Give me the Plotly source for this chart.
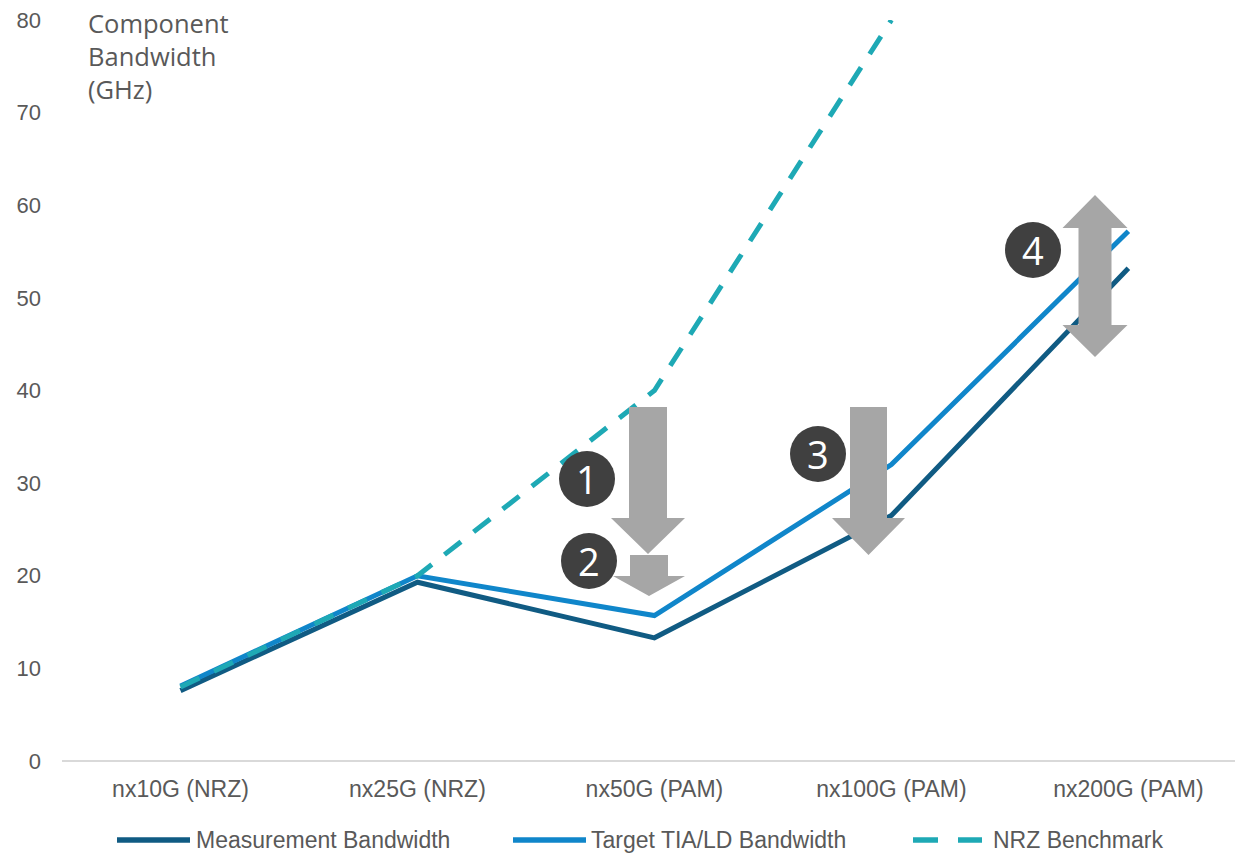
import plotly.graph_objects as go

categories = ["nx10G (NRZ)", "nx25G (NRZ)", "nx50G (PAM)", "nx100G (PAM)", "nx200G (PAM)"]
measurement_bw = [7.6, 19.3, 13.3, 26.5, 53.2]
target_bw = [8.1, 20.0, 15.7, 32.0, 57.2]
nrz_benchmark = [8.0, 20.0, 40.0, 80.0, None]
y_ticks = [0, 10, 20, 30, 40, 50, 60, 70, 80]
series_names = ["Measurement Bandwidth", "Target TIA/LD Bandwidth", "NRZ Benchmark"]
callout_labels = ["1", "2", "3", "4"]

C_MEAS = "#105b83"
C_TARGET = "#1086ca"
C_NRZ = "#1ea9b5"
GREY_TXT = "#595959"
ARROW = "#a6a6a6"
CIRCLE = "#404040"

W, H = 1235, 854
ML, MR, MT, MB = 62, 0, 20, 93
PW, PH = W - ML - MR, H - MT - MB

xs = list(range(len(categories)))

fig = go.Figure()
fig.add_trace(go.Scatter(x=xs, y=measurement_bw, mode="lines", name=series_names[0],
                         line=dict(color=C_MEAS, width=5), showlegend=False, cliponaxis=False))
fig.add_trace(go.Scatter(x=xs, y=target_bw, mode="lines", name=series_names[1],
                         line=dict(color=C_TARGET, width=5), showlegend=False, cliponaxis=False))
fig.add_trace(go.Scatter(x=xs, y=nrz_benchmark, mode="lines", name=series_names[2],
                         line=dict(color=C_NRZ, width=5, dash="21px,16px"), showlegend=False,
                         cliponaxis=False, connectgaps=False))

shapes = []
annotations = []


def px2data_x(px):
    return -0.5 + (px - ML) / PW * 4.95


def py2data_y(py):
    return (MT + PH - py) / PH * 80.0


def down_arrow(cx_px, top, base, tip, shaft_hw, head_hw):
    xa = px2data_x(cx_px)
    yt, yb, yp = py2data_y(top), py2data_y(base), py2data_y(tip)
    path = (f"M {-shaft_hw},{yt} L {shaft_hw},{yt} L {shaft_hw},{yb} L {head_hw},{yb} "
            f"L 0,{yp} L {-head_hw},{yb} L {-shaft_hw},{yb} Z")
    return dict(type="path", xref="x", yref="y", xsizemode="pixel", xanchor=xa, path=path,
                fillcolor=ARROW, line=dict(width=0), layer="above")


def double_arrow(cx_px, tip1, base1, base2, tip2, shaft_hw, head_hw):
    xa = px2data_x(cx_px)
    t1, b1, b2, t2 = py2data_y(tip1), py2data_y(base1), py2data_y(base2), py2data_y(tip2)
    path = (f"M 0,{t1} L {head_hw},{b1} L {shaft_hw},{b1} L {shaft_hw},{b2} L {head_hw},{b2} "
            f"L 0,{t2} L {-head_hw},{b2} L {-shaft_hw},{b2} L {-shaft_hw},{b1} L {-head_hw},{b1} Z")
    return dict(type="path", xref="x", yref="y", xsizemode="pixel", xanchor=xa, path=path,
                fillcolor=ARROW, line=dict(width=0), layer="above")


shapes.append(down_arrow(648, 407, 518, 554, 19, 37))
shapes.append(down_arrow(649, 555, 576, 596, 19, 36))
shapes.append(down_arrow(868.5, 407, 518, 555, 18.5, 36.5))
shapes.append(double_arrow(1095, 195, 228, 325, 357, 16.5, 32.5))

circle_pos = [(587, 479), (589, 561), (818, 454), (1033, 250)]
R = 28
for (cx, cy), lab in zip(circle_pos, callout_labels):
    xa, ya = px2data_x(cx), py2data_y(cy)
    shapes.append(dict(type="circle", xref="x", yref="y", xsizemode="pixel", ysizemode="pixel",
                       xanchor=xa, yanchor=ya, x0=-R, x1=R, y0=-R, y1=R,
                       fillcolor=CIRCLE, line=dict(width=0), layer="above"))
    annotations.append(dict(x=xa, y=ya, xref="x", yref="y", text=lab, showarrow=False,
                            font=dict(family="Open Sans, Noto Sans, sans-serif", size=38, color="white"),
                            xanchor="center", yanchor="middle"))

# Axis title
annotations.append(dict(x=(86 - ML) / PW, y=(MT + PH - 4) / PH, xref="paper", yref="paper",
                        text="Component<br>Bandwidth<br>(GHz)", showarrow=False, align="left",
                        xanchor="left", yanchor="top",
                        font=dict(family="Open Sans, Noto Sans, sans-serif", size=25.5, color=GREY_TXT)))


def px2paper_x(px):
    return (px - ML) / PW


def py2paper_y(py):
    return (MT + PH - py) / PH


# Custom legend
leg_y = py2paper_y(840)
leg_items = [
    (series_names[0], C_MEAS, [(117, 190)], 194),
    (series_names[1], C_TARGET, [(513, 586)], 589),
    (series_names[2], C_NRZ, [(913, 938), (958, 982)], 991),
]
for name, col, segs, tx in leg_items:
    for a, b in segs:
        shapes.append(dict(type="line", xref="paper", yref="paper", x0=px2paper_x(a), x1=px2paper_x(b),
                           y0=leg_y, y1=leg_y, line=dict(color=col, width=5.5)))
    annotations.append(dict(x=px2paper_x(tx), y=leg_y, xref="paper", yref="paper", text=name,
                            showarrow=False, xanchor="left", yanchor="middle",
                            font=dict(family="Liberation Sans, Arial, sans-serif", size=23, color=GREY_TXT)))

fig.update_layout(
    width=W, height=H,
    margin=dict(l=ML, r=MR, t=MT, b=MB, pad=0),
    paper_bgcolor="white", plot_bgcolor="white",
    showlegend=False,
    shapes=shapes, annotations=annotations,
    xaxis=dict(range=[-0.5, 4.45], tickmode="array", tickvals=xs, ticktext=categories,
               showgrid=False, zeroline=False, showline=False, ticks="",
               tickfont=dict(family="Liberation Sans, Arial, sans-serif", size=23, color=GREY_TXT),
               ticklabelstandoff=12, fixedrange=True),
    yaxis=dict(range=[0, 80], tickmode="array", tickvals=y_ticks, showgrid=False,
               zeroline=True, zerolinecolor="#d9d9d9", zerolinewidth=2, showline=False, ticks="",
               tickfont=dict(family="Liberation Sans, Arial, sans-serif", size=22, color=GREY_TXT),
               ticklabelstandoff=20, fixedrange=True),
)

fig.write_html("out.html", config={"displayModeBar": False})
